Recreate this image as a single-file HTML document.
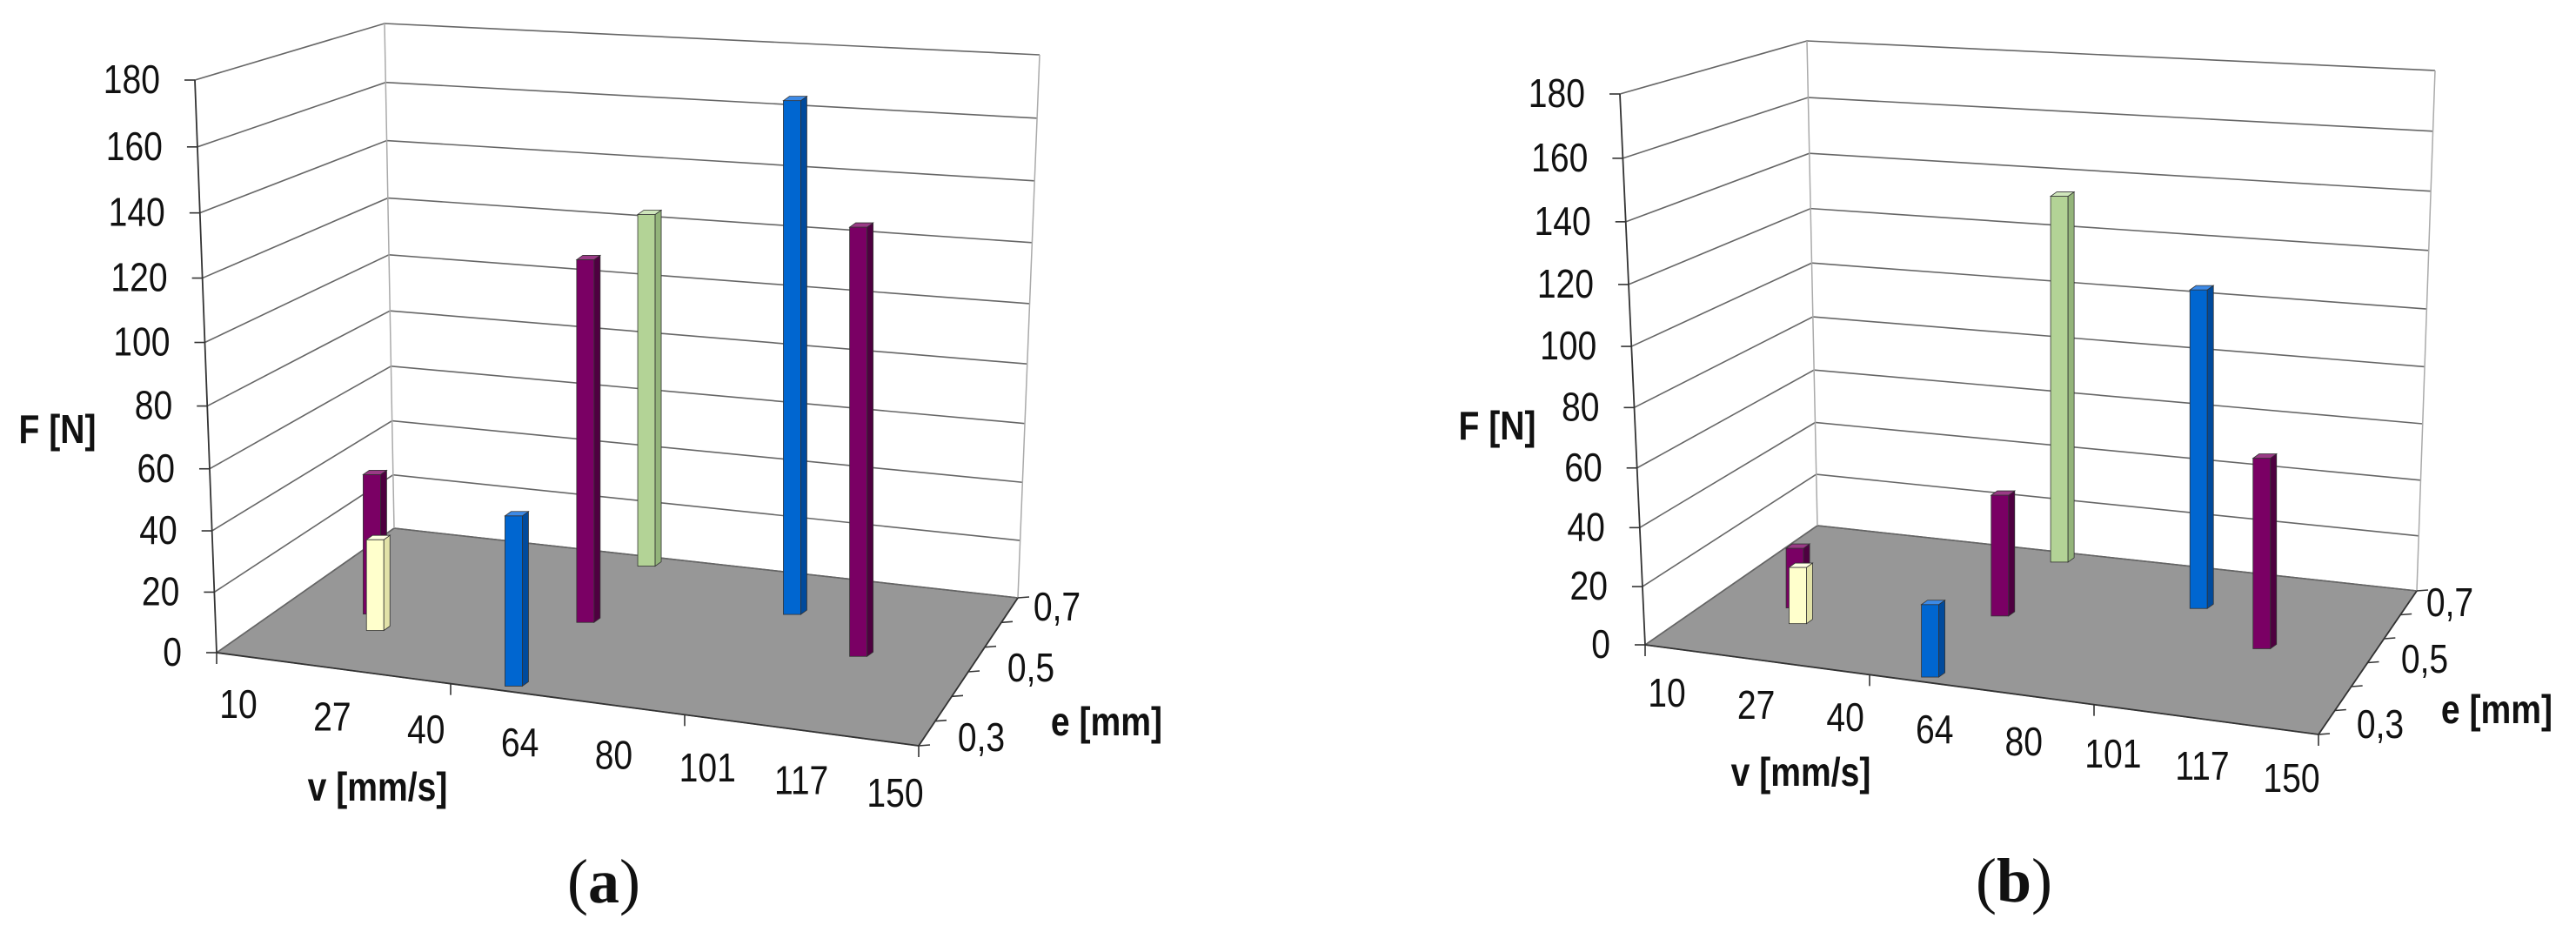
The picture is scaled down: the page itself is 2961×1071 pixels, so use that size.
<!DOCTYPE html>
<html><head><meta charset="utf-8"><style>
html,body{margin:0;padding:0;background:#fff;}
svg{display:block;}
text{font-family:"Liberation Sans",sans-serif;fill:#111;}
</style></head><body>
<svg id="fig" width="2961" height="1071" viewBox="0 0 2961 1071" xmlns="http://www.w3.org/2000/svg">
<rect width="2961" height="1071" fill="#fff"/>
</svg>
<script>
const vLabels = ['10','27','40','64','80','101','117','150'];
const eLabels = ['0,3','0,5','0,7'];
const yTicks = [0,20,40,60,80,100,120,140,160,180];
const barSeries = ['yellow','purple','blue','purple','green','blue','purple'];
const barVPos = [0.152,0.12,0.413,0.39,0.367,0.624,0.775];
const barEPos = [0.292,0.40,0.04,0.535,0.97,0.774,0.55];
const forceA = [31,48,56,124,127,178,146];
const forceB = [20,21.5,25,44,137,117,69];

const NS='http://www.w3.org/2000/svg';
const svg=document.getElementById('fig');
const COLORS={
  purple:['#7a0064','#4e0040','#9a3a86'],
  blue:['#0066d0','#004a9c','#3d8ae6'],
  green:['#b3d396','#93b47a','#cfe6bb'],
  yellow:['#ffffcc','#e2e2a8','#ffffe4']
};
const B=-0.000301;
function f(v){return v/(1+B*v);}
function lerp(a,b,t){return [a[0]+(b[0]-a[0])*t,a[1]+(b[1]-a[1])*t];}
function el(tag,attrs,parent){const e=document.createElementNS(NS,tag);for(const k in attrs)e.setAttribute(k,attrs[k]);(parent||svg).appendChild(e);return e;}
function txt(parent,x,y,s,opt){
  opt=opt||{};
  const t=document.createElementNS(NS,'text');
  t.setAttribute('transform','translate('+x+','+y+') scale('+(opt.sx||0.85)+',1)');
  t.setAttribute('text-anchor',opt.anchor||'middle');
  t.setAttribute('dominant-baseline','central');
  t.setAttribute('font-size',opt.size||46);
  if(opt.bold)t.setAttribute('font-weight','bold');
  t.textContent=s;
  parent.appendChild(t);
  return t;
}

const charts=[
 {id:'a',force:forceA,FL:[249,750],FR:[1056,857],BL:[453,607],BR:[1170,687],FT:[224,92],BLT:[442,27],BRT:[1195,63],kf:3.452,kb:3.048,
  v0:[274,810],v1:[1029,912],e:[[1128,848],[1185,768],[1215,698]],eT:[1272,830],vT:[434,905],fT:[66,494],cap:[694,1013]},
 {id:'b',force:forceB,FL:[1891,741],FR:[2665,844],BL:[2089,604],BR:[2778,679],FT:[1862,108],BLT:[2077,47],BRT:[2799,81],kf:3.324,kb:2.93,
  v0:[1916,797],v1:[2634,895],e:[[2736,833],[2787,758],[2816,693]],eT:[2870,816],vT:[2070,888],fT:[1721,490],cap:[2315,1012]}
];

charts.forEach(c=>{
  const g=el('g',{});
  
  
  const fmax=f(180);
  const floor=el('polygon',{points:[c.FL,c.FR,c.BR,c.BL].map(p=>p.join(',')).join(' '),fill:'#979797',stroke:'#555','stroke-width':1.5},g);
  
  
  yTicks.forEach(v=>{
    const t=f(v)/fmax;
    const a=lerp(c.FL,c.FT,t),b=lerp(c.BL,c.BLT,t),d=lerp(c.BR,c.BRT,t);
    const gl=el('polyline',{points:[a,b,d].map(p=>p.join(',')).join(' '),fill:'none',stroke:'#666','stroke-width':1.6},g);
    
    
    el('line',{x1:a[0]-12,y1:a[1],x2:a[0],y2:a[1],stroke:'#333','stroke-width':1.6},g);
    const lb=txt(g,a[0]-40,a[1],String(v),{anchor:'end'});
    
    
  });
  el('line',{x1:c.BL[0],y1:c.BL[1],x2:c.BLT[0],y2:c.BLT[1],stroke:'#aaa','stroke-width':1.5},g);
  el('line',{x1:c.BR[0],y1:c.BR[1],x2:c.BRT[0],y2:c.BRT[1],stroke:'#aaa','stroke-width':1.5},g);
  const ax=el('line',{x1:c.FL[0],y1:c.FL[1],x2:c.FT[0],y2:c.FT[1],stroke:'#333','stroke-width':1.8},g);
  
  
  el('line',{x1:c.FL[0],y1:c.FL[1],x2:c.FR[0],y2:c.FR[1],stroke:'#333','stroke-width':1.8},g);
  el('line',{x1:c.FR[0],y1:c.FR[1],x2:c.BR[0],y2:c.BR[1],stroke:'#333','stroke-width':1.8},g);
  [0,1/3,2/3,1].forEach(t=>{const p=lerp(c.FL,c.FR,t);el('line',{x1:p[0],y1:p[1],x2:p[0],y2:p[1]+13,stroke:'#333','stroke-width':1.6},g);});
  for(let i=0;i<=6;i++){const p=lerp(c.FR,c.BR,i/6);el('line',{x1:p[0],y1:p[1],x2:p[0]+13,y2:p[1]-1,stroke:'#333','stroke-width':1.6},g);}
  vLabels.forEach((s,i)=>{
    const p=lerp(c.v0,c.v1,i/(vLabels.length-1));
    const t=txt(g,p[0],p[1],s);
    
    
  });
  eLabels.forEach((s,i)=>{
    const t=txt(g,c.e[i][0],c.e[i][1],s);
    
    
  });
  const et=txt(g,c.eT[0],c.eT[1],'e [mm]',{bold:true});
  
  
  const vt=txt(g,c.vT[0],c.vT[1],'v [mm/s]',{bold:true});
  
  
  const ft=txt(g,c.fT[0],c.fT[1],'F [N]',{bold:true});
  
  
  const cap=document.createElementNS(NS,'text');
  cap.setAttribute('x',c.cap[0]);cap.setAttribute('y',c.cap[1]+24);
  cap.setAttribute('text-anchor','middle');
  cap.setAttribute('style','font-family:"Liberation Serif",serif;font-size:72px;');
  cap.innerHTML='(<tspan font-weight="bold">'+c.id+'</tspan>)';
  g.appendChild(cap);
  
  
  const FE=[c.FR[0]-c.FL[0],c.FR[1]-c.FL[1]],LE=[c.BL[0]-c.FL[0],c.BL[1]-c.FL[1]];
  const order=barVPos.map((_,i)=>i).sort((a,b)=>barEPos[b]-barEPos[a]);
  order.forEach(i=>{
    const u=barVPos[i],w=barEPos[i],F=c.force[i];
    const bx=c.FL[0]+u*FE[0]+w*LE[0], by=c.FL[1]+u*FE[1]+w*LE[1];
    const h=(c.kf+(c.kb-c.kf)*w)*f(F);
    const top=by-h, hw=10, sd=7, dy=5;
    const col=COLORS[barSeries[i]];
    const bg=el('g',{},g);
    
    
    el('rect',{x:bx-hw,y:top,width:2*hw,height:h,fill:col[0],stroke:'#333','stroke-width':0.8},bg);
    el('polygon',{points:[[bx+hw,by],[bx+hw+sd,by-dy],[bx+hw+sd,top-dy],[bx+hw,top]].map(p=>p.join(',')).join(' '),fill:col[1],stroke:'#333','stroke-width':0.8},bg);
    el('polygon',{points:[[bx-hw,top],[bx-hw+sd,top-dy],[bx+hw+sd,top-dy],[bx+hw,top]].map(p=>p.join(',')).join(' '),fill:col[2],stroke:'#333','stroke-width':0.8},bg);
  });
});
</script>
</body></html>
